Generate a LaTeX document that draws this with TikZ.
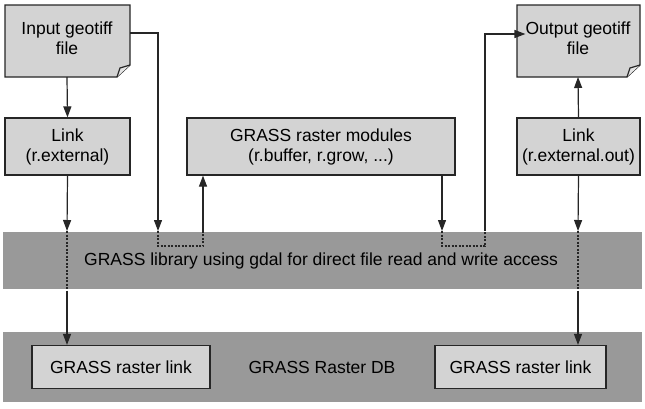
\documentclass[tikz,border=0pt]{standalone}
\usepackage{fontspec}
\setmainfont{Liberation Sans}
\usetikzlibrary{arrows.meta}
\definecolor{bandc}{HTML}{999999}
\definecolor{boxc}{HTML}{D3D3D3}
\begin{document}
\begin{tikzpicture}[x=1pt,y=-1pt,
 box/.style={draw=black!85,fill=boxc,line width=1.2pt},
 band/.style={fill=bandc,draw=none},
 ar/.style={line width=1.2pt,draw=black!85,-{Triangle[length=11pt,width=8pt]}},
 ln/.style={line width=1.2pt,draw=black!85},
 dt/.style={line width=1.2pt,draw=black!85,dash pattern=on 2pt off 1.5pt},
 lbl/.style={font=\fontsize{17.5}{20}\selectfont,align=center,inner sep=0pt}]
\useasboundingbox (0,0) rectangle (645,408);
% bands
\fill[band] (3,232) rectangle (642,289);
\fill[band] (3,332) rectangle (642,402);
\node[lbl] (lib) at (321,261) {GRASS library using gdal for direct file read and write access};
\node[lbl] (db) at (322,367) {GRASS Raster DB};
% doc boxes
\draw[box] (5,5) -- (130,5) -- (130,65) -- (117,77) -- (5,77) -- cycle;
\draw[ln,fill=gray!20] (117,77) -- (120,68) -- (130,65);
\node[lbl] (in) at (67,38) {Input geotiff\\file};
\coordinate (inS) at (67,77);
\draw[box] (517,5) -- (640,5) -- (640,65) -- (627,77) -- (517,77) -- cycle;
\draw[ln,fill=gray!20] (627,77) -- (630,68) -- (640,65);
\node[lbl] (out) at (578,38) {Output geotiff\\file};
\coordinate (outS) at (578,77);
% boxes
\node[box,lbl,minimum width=125pt,minimum height=57pt] (l1) at (67.5,146.5) {Link\\(r.external)};
\node[box,lbl,minimum width=268pt,minimum height=57pt] (mod) at (321,146.5) {GRASS raster modules\\(r.buffer, r.grow, ...)};
\node[box,lbl,minimum width=123pt,minimum height=57pt] (l2) at (578.5,146.5) {Link\\(r.external.out)};
\node[box,lbl,minimum width=178pt,minimum height=43pt] (r1) at (121,367) {GRASS raster link};
\node[box,lbl,minimum width=171pt,minimum height=43pt] (r2) at (520.5,367) {GRASS raster link};
% connectors
\draw[ar] (inS) -- (l1.north);
\draw[ar] (l1.south) -- (67,231);
\draw[dt] (67,231) -- (67,291);
\draw[ar] (67,291) -- (r1.north -| 67,0);
\draw[ar] (130,33) -- (158,33) -- (158,231);
\draw[dt] (158,231) -- (158,246) -- (203,246) -- (203,231);
\draw[ar] (203,231) -- (mod.south -| 203,0);
\draw[ar] (mod.south -| 442,0) -- (442,231);
\draw[dt] (442,231) -- (442,246) -- (485,246) -- (485,231);
\draw[ar] (485,231) -- (485,34) -- (out.west |- 0,34);
\draw[ar] (l2.north) -- (outS);
\draw[ar] (l2.south) -- (578,231);
\draw[dt] (578,231) -- (578,291);
\draw[ar] (578,291) -- (r2.north -| 578,0);
\end{tikzpicture}
\end{document}
